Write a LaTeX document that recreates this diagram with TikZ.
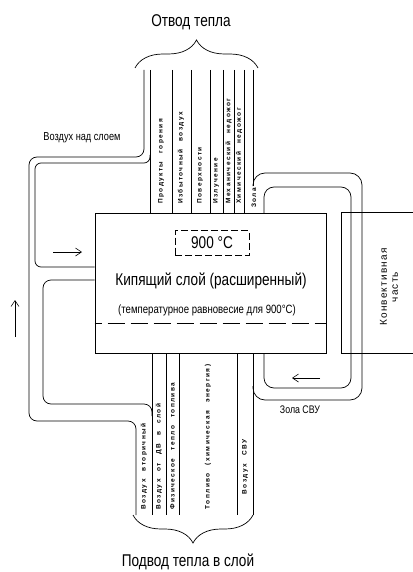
\documentclass[tikz,border=0pt]{standalone}
\usepackage{fontspec}
\setmainfont{Liberation Sans}
\newfontfamily\narrowfont[FakeStretch=0.8]{Liberation Sans}
\newfontfamily\streamfont[LetterSpace=22, WordSpace=2.5]{Liberation Sans}
\newfontfamily\convfont[LetterSpace=12]{Liberation Sans}
\usetikzlibrary{arrows.meta, positioning, decorations.pathreplacing}

\begin{document}
\begin{tikzpicture}[
    x=1pt, y=-1pt,
    every node/.style={inner sep=0pt},
    wall/.style={line width=0.7pt},
    chan/.style={wall, rounded corners=8pt},
    flow/.style={-{Straight Barb[length=6pt,width=8pt]}, line width=0.6pt},
    bigtext/.style={font=\narrowfont\fontsize{17}{20}\selectfont},
    midtext/.style={font=\narrowfont\fontsize{12}{14}\selectfont},
    stream/.style={rotate=90, font=\streamfont\bfseries\fontsize{6.5}{8}\selectfont},
    brace/.style={decorate, decoration={brace, amplitude=28pt}, line width=0.7pt},
]
\useasboundingbox (0,0) rectangle (412,572);

% Nodes
\node (outTitle) [bigtext] at (191,22) {Отвод тепла};
\node (inTitle) [bigtext] at (188,562) {Подвод тепла в слой};

\node (bed) [draw, wall, minimum width=231pt, minimum height=140pt] at (210.5,283) {};
\node (tempBox) [draw, wall, dash pattern=on 7pt off 3pt, minimum width=74pt, minimum height=25pt, bigtext] at (212,243) {900 °C};
\node (bedName) [bigtext] at (211,281) {Кипящий слой (расширенный)};
\node (bedNote) [midtext] at (207,310) {(температурное равновесие для 900°C)};

\node (convName) [rotate=90, align=center, font=\convfont\fontsize{10}{11}\selectfont] at (389,287) {Конвективная\\часть};

\node (airAbove) [midtext, font=\narrowfont\fontsize{11.5}{13}\selectfont] at (82,138) {Воздух над слоем};
\node (ashSvu) [midtext, font=\narrowfont\fontsize{11}{13}\selectfont] at (300,410) {Зола СВУ};

% heat removal streams
\node (products) [stream, anchor=west] at (161,204) {Продукты горения};
\node (excessAir) [stream, anchor=west] at (181,204) {Избыточный воздух};
\node (surfaces) [stream, anchor=west] at (200,204) {Поверхности};
\node (radiation) [stream, anchor=west] at (216,204) {Излучение};
\node (mechLoss) [stream, anchor=west] at (228.5,204) {Механический недожог};
\node (chemLoss) [stream, anchor=west] at (239,204) {Химический недожог};
\node (ashOut) [stream, anchor=west] at (254,208) {Зола};

% heat supply streams
\node (secAir) [stream, anchor=west] at (144,510) {Воздух вторичный};
\node (dbAir) [stream, anchor=west] at (159,510) {Воздух от ДВ в слой};
\node (fuelHeat) [stream, anchor=west] at (172.5,510) {Физическое тепло топлива};
\node (fuel) [stream] at (208,437) {Топливо (химическая энергия)};
\node (svuAir) [stream] at (245,467) {Воздух СВУ};

% Braces
\draw [brace] (135,68) -- (258,68);
\draw [brace] (253,515) -- (133,515);

% Walls
\foreach \x in {150,172,191,210,223,234,244}
    \draw [wall] (\x,70) -- (\x,213);
\foreach \x in {152,166,179,237,253}
    \draw [wall] (\x,353) -- (\x,515);
\draw [wall] (253,70) -- (253,186);

\draw [chan] (144,70) -- (144,157) -- (29,157) -- (29,421) -- (136,421) -- (136,515);
\draw [chan, rounded corners=6pt] (150,155) -- (150,163) -- (35,163) -- (35,267) -- (bed.west |- 0,267);
\draw [chan] (bed.west |- 0,280) -- (43,280) -- (43,404) -- (152,404) -- (152,416);

\draw [chan, rounded corners=12pt] (253,186) -- (253,173) -- (362,173) -- (362,400) -- (253,400) -- (253,386);
\draw [chan, rounded corners=10pt] (264,213) -- (264,187) -- (351,187) -- (351,388) -- (264,388) -- (264,353);

\draw [wall] (414,212) -- (341,212) -- (341,353) -- (414,353);
\draw [wall, dash pattern=on 17pt off 6pt, dash phase=10pt] (bed.west |- 0,323) -- (bed.east |- 0,323);

% Arrows
\coordinate (airFrom) at (53,252);
\coordinate (airTo) at (82,252);
\coordinate (upFrom) at (15,337);
\coordinate (upTo) at (15,300);
\coordinate (ashFrom) at (320,378);
\coordinate (ashTo) at (292,378);
\draw [flow] (airFrom) -- (airTo);
\draw [flow] (upFrom) -- (upTo);
\draw [flow] (ashFrom) -- (ashTo);

\end{tikzpicture}
\end{document}
